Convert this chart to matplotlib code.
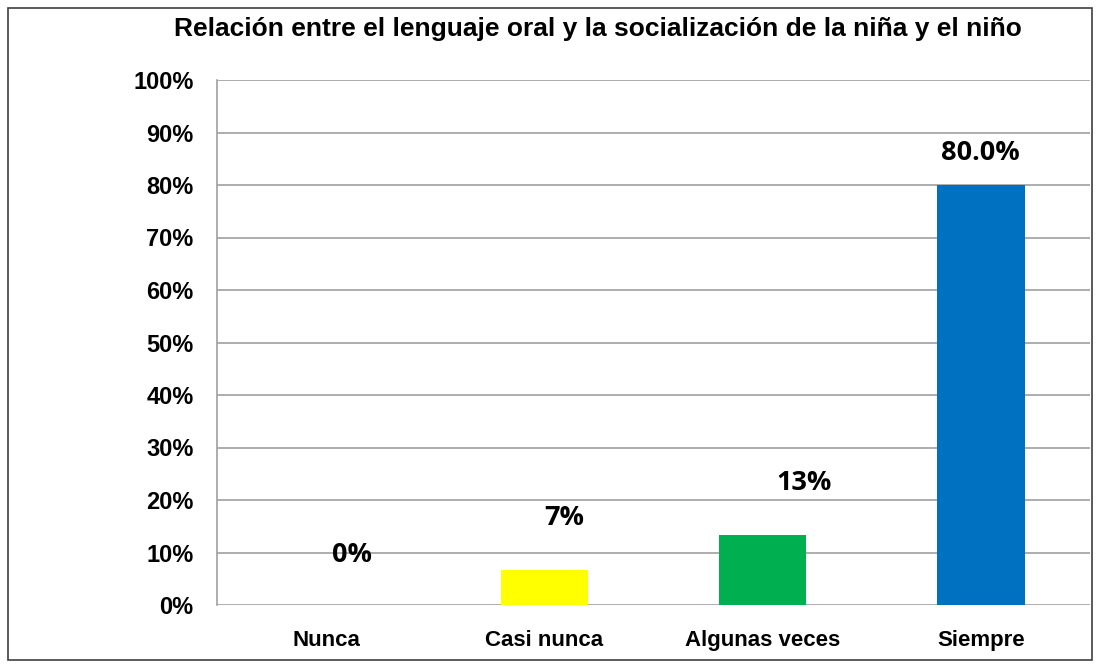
import matplotlib.pyplot as plt
from matplotlib.patches import Rectangle
import numpy as np

# data
categories = ["Nunca", "Casi nunca", "Algunas veces", "Siempre"]
values = [0.0, 6.7, 13.3, 80.0]
labels = ["0%", "7%", "13%", "80.0%"]
colors = ["#FFFFFF", "#FFFF00", "#00B050", "#0070C0"]
title = "Relación entre el lenguaje oral y la socialización de la niña y el niño"

# label offsets (x in categories, y in %)
label_dx = [0.12, 0.09, 0.19, 0.0]
label_y = [9.5, 16.6, 23.2, 86.0]

narrow = ["Liberation Sans Narrow", "Liberation Sans", "DejaVu Sans"]

fig = plt.figure(figsize=(10.98, 6.68), dpi=100)
ax = fig.add_axes([217 / 1098, 1 - 605 / 668, 873 / 1098, 525 / 668])

x = np.arange(len(categories))
ax.bar(x, values, width=0.40, color=colors, zorder=3)

for i in range(len(categories)):
    ax.text(x[i] + label_dx[i], label_y[i], labels[i], ha="center", va="center",
            fontsize=19.5, fontweight="bold", family=["Open Sans", "DejaVu Sans"], zorder=4)

ax.set_xlim(-0.5, 3.5)
ax.set_ylim(0, 100)
ax.set_yticks(np.arange(0, 101, 10))
ax.set_yticklabels([f"{v}%" for v in range(0, 101, 10)], fontsize=17,
                   fontweight="bold", family=narrow)
ax.set_xticks(x)
ax.set_xticklabels(categories, fontsize=16, fontweight="bold", family=narrow)
ax.tick_params(axis="both", length=0)
ax.tick_params(axis="y", pad=17)
ax.tick_params(axis="x", pad=18)
ax.grid(axis="y", color="#A0A0A0", linewidth=1.2, zorder=0)
for s in ["top", "right", "bottom"]:
    ax.spines[s].set_visible(False)
ax.spines["left"].set_color("#A0A0A0")
ax.spines["left"].set_linewidth(1.2)

fig.text(598 / 1098, 1 - 29 / 668, title, ha="center", va="center",
         fontsize=19, fontweight="bold", family=["Liberation Sans", "DejaVu Sans"])

fig.patches.append(Rectangle((8 / 1098, 8 / 668), 1084 / 1098, 652 / 668,
                             transform=fig.transFigure, fill=False,
                             edgecolor="#404040", linewidth=1.2))

fig.savefig("out.png", dpi=100)
